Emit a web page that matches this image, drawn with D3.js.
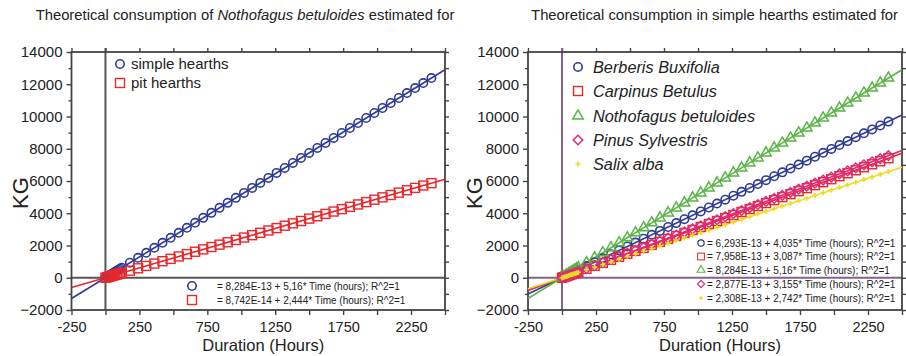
<!DOCTYPE html>
<html>
<head>
<meta charset="utf-8">
<title></title>
<script src="https://cdnjs.cloudflare.com/ajax/libs/d3/7.8.5/d3.min.js"></script>
<style>
  body { margin: 0; background-color: white }
  svg text { font-family: "Liberation Sans", Arial, sans-serif; fill: #222 }
</style>
</head>
<body>
<div id="chart"></div>
<script>

// duration in hours of each estimate
var hours = [0, 12, 24, 36, 48, 60, 72, 84, 96, 108, 120, 180, 240, 300, 360, 420, 480, 540, 600, 660,
	     720, 780, 840, 900, 960, 1020, 1080, 1140, 1200, 1260, 1320, 1380, 1440, 1500, 1560, 1620,
	     1680, 1740, 1800, 1860, 1920, 1980, 2040, 2100, 2160, 2220, 2280, 2340, 2400];

// KG, Nothofagus betuloides
var nothoSimple = [0, 62, 124, 186, 248, 310, 372, 433, 495, 557, 619, 929, 1238, 1548, 1858, 2167, 2477,
		   2786, 3096, 3406, 3715, 4025, 4334, 4644, 4954, 5263, 5573, 5882, 6192, 6502, 6811,
		   7121, 7430, 7740, 8050, 8359, 8669, 8978, 9288, 9598, 9907, 10217, 10526, 10836,
		   11146, 11455, 11765, 12074, 12384];
var nothoPit = [0, 29, 59, 88, 117, 147, 176, 205, 235, 264, 293, 440, 587, 733, 880, 1026, 1173, 1320,
		1466, 1613, 1760, 1906, 2053, 2200, 2346, 2493, 2640, 2786, 2933, 3079, 3226, 3373, 3519,
		3666, 3813, 3959, 4106, 4253, 4399, 4546, 4692, 4839, 4986, 5132, 5279, 5426, 5572, 5719, 5866];

// KG, simple hearths
var berberis = [0, 48, 97, 145, 194, 242, 291, 339, 387, 436, 484, 726, 968, 1211, 1453, 1695, 1937, 2179,
		2421, 2663, 2905, 3147, 3389, 3632, 3874, 4116, 4358, 4600, 4842, 5084, 5326, 5568, 5810,
		6053, 6295, 6537, 6779, 7021, 7263, 7505, 7747, 7989, 8231, 8474, 8716, 8958, 9200, 9442, 9684];
var carpinus = [0, 37, 74, 111, 148, 185, 222, 259, 296, 333, 370, 556, 741, 926, 1111, 1297, 1482, 1667,
		1852, 2037, 2223, 2408, 2593, 2778, 2964, 3149, 3334, 3519, 3704, 3890, 4075, 4260, 4445,
		4631, 4816, 5001, 5186, 5371, 5557, 5742, 5927, 6112, 6297, 6483, 6668, 6853, 7038, 7224, 7409];
var pinus = [0, 38, 76, 114, 151, 189, 227, 265, 303, 341, 379, 568, 757, 947, 1136, 1325, 1514, 1704,
	     1893, 2082, 2272, 2461, 2650, 2840, 3029, 3218, 3407, 3597, 3786, 3975, 4165, 4354, 4543,
	     4733, 4922, 5111, 5300, 5490, 5679, 5868, 6058, 6247, 6436, 6626, 6815, 7004, 7193, 7383, 7572];
var salix = [0, 33, 66, 99, 132, 165, 197, 230, 263, 296, 329, 494, 658, 823, 987, 1152, 1316, 1481,
	     1645, 1810, 1974, 2139, 2303, 2468, 2632, 2797, 2961, 3126, 3290, 3455, 3619, 3784, 3948,
	     4113, 4278, 4442, 4607, 4771, 4936, 5100, 5265, 5429, 5594, 5758, 5923, 6087, 6252, 6416, 6581];

// fitted lines as printed on the chart
var leftNames = ["simple hearths", "pit hearths"];
var leftIntercepts = [8.284e-13, 8.742e-14];
var leftSlopes = [5.16, 2.444];
var leftEquations = ["= 8,284E-13 + 5,16* Time (hours); R^2=1",
		     "= 8,742E-14 + 2,444* Time (hours); R^2=1"];

var rightNames = ["Berberis Buxifolia", "Carpinus Betulus", "Nothofagus betuloides", "Pinus Sylvestris", "Salix alba"];
var rightIntercepts = [6.293e-13, 7.958e-13, 8.284e-13, 2.877e-13, 2.308e-13];
var rightSlopes = [4.035, 3.087, 5.16, 3.155, 2.742];
var rightEquations = ["= 6,293E-13 + 4,035* Time (hours); R^2=1",
		      "= 7,958E-13 + 3,087* Time (hours); R^2=1",
		      "= 8,284E-13 + 5,16* Time (hours); R^2=1",
		      "= 2,877E-13 + 3,155* Time (hours); R^2=1",
		      "= 2,308E-13 + 2,742* Time (hours); R^2=1"];

var xDomain = [-250, 2500];
var yDomain = [-2000, 14000];
var xTicks = [-250, 0, 250, 500, 750, 1000, 1250, 1500, 1750, 2000, 2250, 2500];
var xTickLabels = [-250, 250, 750, 1250, 1750, 2250];
var yTicks = [-2000, 0, 2000, 4000, 6000, 8000, 10000, 12000, 14000];
var yMinorTicks = [-1000, 1000, 3000, 5000, 7000, 9000, 11000, 13000];

var C = { blue: "#2e3a96", red: "#e9282c", green: "#5ab446", pink: "#df2a7c", yellow: "#e8df1e" };

var svg = d3.select("#chart").append("svg")
    .attr("width", 906)
    .attr("height", 356);

// marker shapes
function marker(sel, kind, color) {
    if (kind == "circle") {
	sel.append("circle").attr("r", 4.2)
	    .style("fill", "none").style("stroke", color).style("stroke-width", 1.6);
    } else if (kind == "square") {
	sel.append("rect").attr("x", -4.5).attr("y", -4.5).attr("width", 9).attr("height", 9)
	    .style("fill", "none").style("stroke", color).style("stroke-width", 1.4);
    } else if (kind == "triangle") {
	sel.append("path").attr("d", d3.symbol(d3.symbolTriangle, 48)())
	    .style("fill", "none").style("stroke", color).style("stroke-width", 1.5);
    } else if (kind == "diamond") {
	sel.append("rect").attr("x", -3.4).attr("y", -3.4).attr("width", 6.8).attr("height", 6.8)
	    .attr("transform", "rotate(45)")
	    .style("fill", "none").style("stroke", color).style("stroke-width", 1.5);
    } else if (kind == "plus") {
	sel.append("path").attr("d", d3.symbol(d3.symbolCross, 14)())
	    .style("fill", color);
    }
}

function panel(p) {
    var x = d3.scaleLinear().domain(xDomain).range([p.x0, p.x1]);
    var y = d3.scaleLinear().domain(yDomain).range([310, 52]);
    var g = svg.append("g");
    var frame = "#444";

    // axes
    var bottom = g.append("g").attr("transform", "translate(0,310)")
	.call(d3.axisBottom(x).tickValues(xTicks).tickSize(5).tickPadding(7).tickSizeOuter(0)
	      .tickFormat(function(d){ return xTickLabels.indexOf(d) >= 0 ? d : ""; }));
    var top = g.append("g").attr("transform", "translate(0,52)")
	.call(d3.axisTop(x).tickValues(xTicks).tickSize(4).tickFormat(""));
    var left = g.append("g").attr("transform", "translate(" + p.x0 + ",0)")
	.call(d3.axisLeft(y).tickValues(yTicks).tickSize(5).tickPadding(4).tickSizeOuter(0)
	      .tickFormat(d3.format("d")));
    var leftMinor = g.append("g").attr("transform", "translate(" + p.x0 + ",0)")
	.call(d3.axisLeft(y).tickValues(yMinorTicks).tickSize(3).tickFormat(""));
    var right = g.append("g").attr("transform", "translate(" + p.x1 + ",0)")
	.call(d3.axisRight(y).tickValues(yTicks.concat(yMinorTicks)).tickSize(4).tickFormat(""));
    [bottom, top, left, leftMinor, right].forEach(function(a){
	a.select(".domain").remove();
	a.selectAll(".tick line").style("stroke", frame).style("stroke-width", 1.4);
	a.selectAll(".tick text").style("font-size", "15px").style("fill", "#222")
	    .style("font-family", '"Liberation Sans", Arial, sans-serif');
    });
    bottom.selectAll(".tick text").style("font-size", "14.5px");

    // zero lines
    g.append("line").attr("x1", x(0)).attr("x2", x(0)).attr("y1", y(14000) - 4).attr("y2", y(-2000))
	.style("stroke", p.zero).style("stroke-width", 2);
    g.append("line").attr("x1", p.x0).attr("x2", p.x1).attr("y1", y(0)).attr("y2", y(0))
	.style("stroke", p.zero).style("stroke-width", 2);

    // frame
    g.append("rect").attr("x", p.x0).attr("y", 52).attr("width", p.x1 - p.x0).attr("height", 258)
	.style("fill", "none").style("stroke", frame).style("stroke-width", 1.8);

    // fitted lines then markers
    p.series.forEach(function(s){
	g.append("line")
	    .attr("x1", x(xDomain[0])).attr("y1", y(s.a + s.b * xDomain[0]))
	    .attr("x2", x(xDomain[1])).attr("y2", y(s.a + s.b * xDomain[1]))
	    .style("stroke", s.color).style("stroke-width", 1.6);
    });
    p.series.forEach(function(s){
	g.append("g").selectAll("g").data(s.values).enter().append("g")
	    .attr("transform", function(d, i){ return "translate(" + x(hours[i]) + "," + y(d) + ")"; })
	    .each(function(){ marker(d3.select(this), s.kind, s.color); });
    });

    // titles
    var t = svg.append("text").attr("x", p.titleX).attr("y", 19.5)
	.attr("text-anchor", "middle").style("font-size", "14.8px");
    p.title.forEach(function(part){
	t.append("tspan").text(part[0]).style("font-style", part[1] ? "italic" : "normal");
    });
    svg.append("text").attr("x", (p.x0 + p.x1) / 2 + 5).attr("y", 350.5)
	.attr("text-anchor", "middle").style("font-size", "16.5px").text("Duration (Hours)");
    svg.append("text").attr("transform", "translate(" + p.kgX + ",193) rotate(-90)")
	.attr("text-anchor", "middle").attr("dy", "0.35em").style("font-size", "22px").text("KG");

    // equations
    p.series.forEach(function(s, i){
	var row = svg.append("g").attr("transform", "translate(" + p.eqMarkX + "," + p.eqY[i] + ")");
	marker(row.append("g").attr("transform", "scale(" + p.eqMarkScale + ")"), s.kind, s.color);
	row.append("text").attr("x", p.eqTextX - p.eqMarkX).attr("dy", "0.35em")
	    .style("font-size", "10px").text(s.eq);
    });
    // legend
    p.series.forEach(function(s, i){
	var row = svg.append("g").attr("transform", "translate(" + p.legX + "," + p.legY[i] + ")");
	marker(row, s.kind, s.color);
	row.append("text").attr("x", p.legGap).attr("dy", "0.35em")
	    .style("font-size", p.legSize).style("font-style", p.legItalic ? "italic" : "normal").text(s.name);
    });
}

panel({
    x0: 71.5, x1: 445, zero: "#555", titleX: 245, kgX: 20,
    title: [["Theoretical consumption of ", false], ["Nothofagus betuloides", true], [" estimated for", false]],
    series: [
	{ name: leftNames[0], values: nothoSimple, a: leftIntercepts[0], b: leftSlopes[0], eq: leftEquations[0], kind: "circle", color: C.blue },
	{ name: leftNames[1], values: nothoPit, a: leftIntercepts[1], b: leftSlopes[1], eq: leftEquations[1], kind: "square", color: C.red }
    ],
    eqMarkX: 192, eqTextX: 217, eqY: [286, 300], eqMarkScale: 1,
    legX: 120, legY: [64, 83], legSize: "15px", legItalic: false, legGap: 11
});

panel({
    x0: 528, x1: 902, zero: "#82628a", titleX: 714.5, kgX: 474,
    title: [["Theoretical consumption in simple hearths estimated for", false]],
    series: [
	{ name: rightNames[0], values: berberis, a: rightIntercepts[0], b: rightSlopes[0], eq: rightEquations[0], kind: "circle", color: C.blue },
	{ name: rightNames[1], values: carpinus, a: rightIntercepts[1], b: rightSlopes[1], eq: rightEquations[1], kind: "square", color: C.red },
	{ name: rightNames[2], values: nothoSimple, a: rightIntercepts[2], b: rightSlopes[2], eq: rightEquations[2], kind: "triangle", color: C.green },
	{ name: rightNames[3], values: pinus, a: rightIntercepts[3], b: rightSlopes[3], eq: rightEquations[3], kind: "diamond", color: C.pink },
	{ name: rightNames[4], values: salix, a: rightIntercepts[4], b: rightSlopes[4], eq: rightEquations[4], kind: "plus", color: C.yellow }
    ],
    eqMarkX: 701, eqTextX: 707, eqY: [243, 256.5, 270, 284, 298], eqMarkScale: 0.75,
    legX: 578, legY: [67, 91, 116, 140, 164], legSize: "16.3px", legItalic: true, legGap: 15
});

</script>
</body>
</html>
